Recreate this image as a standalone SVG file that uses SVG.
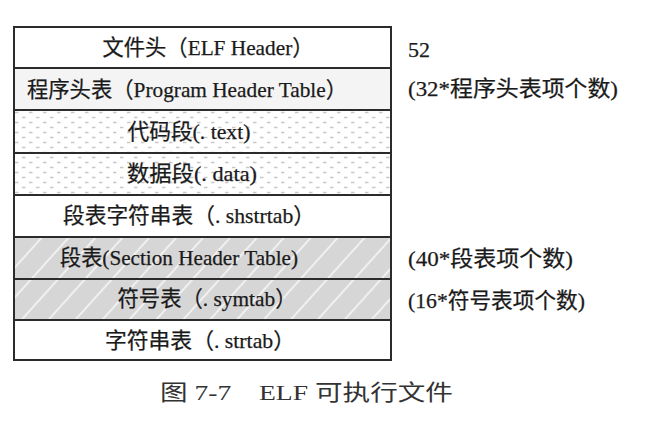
<svg xmlns="http://www.w3.org/2000/svg" width="662" height="434" viewBox="0 0 662 434">
  <style>
    .cell { stroke: #2b2b2b; stroke-width: 2; }
    .plain { fill: #ffffff; }
    .tint { fill: #f4f4f4; }
    .dots { fill: url(#dotFill); }
    .hatch { fill: url(#hatchFill); }
    .label { font-family: "Liberation Serif", "Noto Sans CJK SC", serif; font-size: 22px; fill: #1a1a1a; stroke: #1a1a1a; stroke-width: 0.25; text-anchor: middle; }
    .note { font-family: "Liberation Serif", "Noto Sans CJK SC", serif; font-size: 22px; fill: #1a1a1a; stroke: #1a1a1a; stroke-width: 0.25; }
    .caption { font-family: "Liberation Serif", "Noto Sans CJK SC", serif; font-size: 22px; fill: #333333; }
  </style>
  <defs>
    <!-- staggered light dashes for the code/data sections -->
    <pattern id="dotFill" width="14" height="10" patternUnits="userSpaceOnUse">
      <rect width="14" height="10" fill="#ffffff"/>
      <path d="M1 2.5h3.5M8 7.5h3.5" stroke="#c8c8c8" stroke-width="1.3"/>
    </pattern>
    <!-- grey fill with light diagonal streaks for the section/symbol tables -->
    <pattern id="hatchFill" width="20" height="20" patternUnits="userSpaceOnUse" patternTransform="rotate(-48)">
      <rect width="20" height="20" fill="#d6d6d6"/>
      <path d="M0 10h20" stroke="#f0f0f0" stroke-width="2"/>
    </pattern>
  </defs>

  <g id="elf-header">
    <rect class="cell plain" x="14" y="27" width="377" height="41"/>
    <text class="label" x="208" y="55" textLength="211" lengthAdjust="spacingAndGlyphs">文件头（ELF Header）</text>
  </g>
  <g id="program-header-table">
    <rect class="cell tint" x="14" y="68" width="377" height="42"/>
    <text class="label" x="187" y="97" textLength="320" lengthAdjust="spacingAndGlyphs">程序头表（Program Header Table）</text>
  </g>
  <g id="text-section">
    <rect class="cell dots" x="14" y="110" width="377" height="43"/>
    <text class="label" x="189" y="139" textLength="123" lengthAdjust="spacingAndGlyphs">代码段(. text)</text>
  </g>
  <g id="data-section">
    <rect class="cell dots" x="14" y="153" width="377" height="42"/>
    <text class="label" x="192" y="181" textLength="130" lengthAdjust="spacingAndGlyphs">数据段(. data)</text>
  </g>
  <g id="shstrtab">
    <rect class="cell plain" x="14" y="195" width="377" height="42"/>
    <text class="label" x="189" y="223" textLength="252" lengthAdjust="spacingAndGlyphs">段表字符串表（. shstrtab）</text>
  </g>
  <g id="section-header-table">
    <rect class="cell hatch" x="14" y="237" width="377" height="42"/>
    <text class="label" x="179" y="265" textLength="238" lengthAdjust="spacingAndGlyphs">段表(Section Header Table)</text>
  </g>
  <g id="symtab">
    <rect class="cell hatch" x="14" y="279" width="377" height="41"/>
    <text class="label" x="207" y="306" textLength="179" lengthAdjust="spacingAndGlyphs">符号表（. symtab）</text>
  </g>
  <g id="strtab">
    <rect class="cell plain" x="14" y="320" width="377" height="40"/>
    <text class="label" x="200" y="348" textLength="190" lengthAdjust="spacingAndGlyphs">字符串表（. strtab）</text>
  </g>

  <g id="sizes">
    <text class="note" x="408" y="57">52</text>
    <text class="note" x="408" y="96" textLength="210" lengthAdjust="spacingAndGlyphs">(32*程序头表项个数)</text>
    <text class="note" x="408" y="266" textLength="165" lengthAdjust="spacingAndGlyphs">(40*段表项个数)</text>
    <text class="note" x="408" y="308" textLength="177" lengthAdjust="spacingAndGlyphs">(16*符号表项个数)</text>
  </g>

  <text class="caption" x="160" y="400" textLength="293" lengthAdjust="spacingAndGlyphs" xml:space="preserve">图 7-7    ELF 可执行文件</text>
</svg>
